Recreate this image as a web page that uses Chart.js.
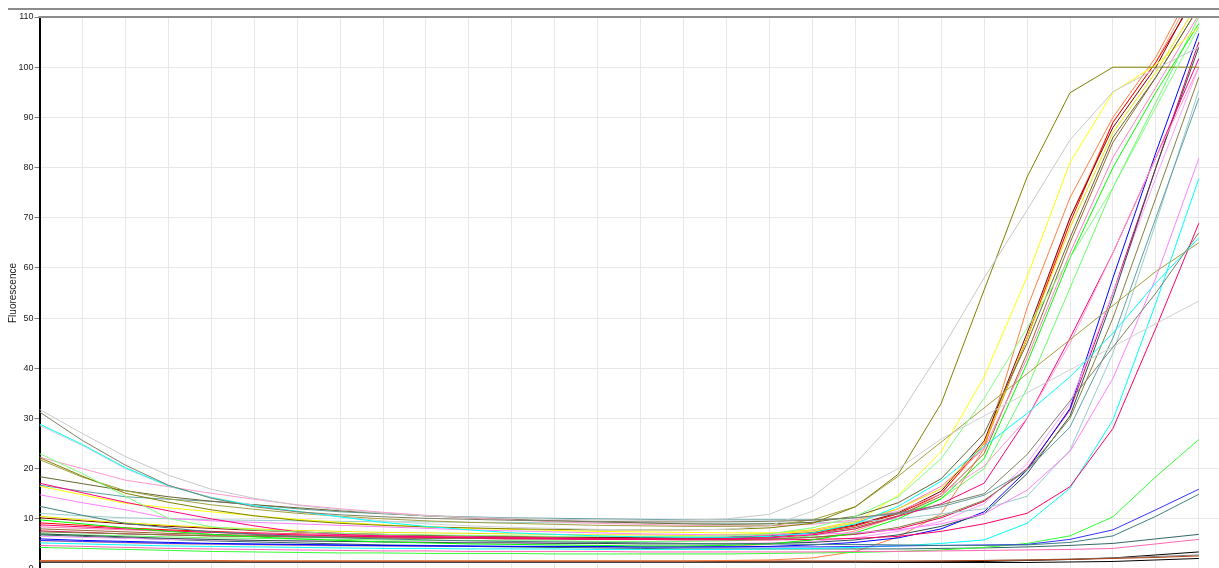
<!DOCTYPE html>
<html>
<head>
<meta charset="utf-8">
<script src="https://cdn.jsdelivr.net/npm/chart.js@4.4.1/dist/chart.umd.min.js"></script>
<style>
  html, body { margin: 0; padding: 0; background: #fff; overflow: hidden; }
  #wrap { width: 1219px; height: 568px; overflow: hidden; position: relative; }
  canvas { display: block; }
</style>
</head>
<body>
<div id="wrap"><canvas id="c" width="1219" height="600"></canvas></div>
<script>
// ---- data ----
const cycles = [1,2,3,4,5,6,7,8,9,10,11,12,13,14,15,16,17,18,19,20,21,22,23,24,25,26,27,28];
const yTickValues = [0,10,20,30,40,50,60,70,80,90,100,110];
const yAxisTitle = "Fluorescence";

const lightGrayA  = [31.8,27.0,22.4,18.7,15.9,14.1,12.7,11.8,11.1,10.6,10.3,10.1,9.9,9.8,9.7,9.7,10.0,10.9,14.4,21.0,30.3,43.6,58.0,71.5,85.5,95.1,99.7,104.0];
const grayOlive   = [31.3,25.6,20.7,16.7,14.1,12.4,11.4,10.8,10.4,10.1,9.9,9.7,9.6,9.5,9.4,9.4,9.4,9.5,9.7,10.2,11.2,12.8,15.0,22.8,33.5,44.2,55.0,67.0];
const cyanA       = [28.9,24.8,20.2,16.6,14.2,12.6,11.5,10.4,9.3,8.5,7.8,7.2,6.9,6.6,6.4,6.3,6.3,6.5,7.2,9.0,12.5,17.5,24.4,31.0,38.3,47.0,57.0,66.0];
const lightGrayB  = [28.6,24.6,20.0,16.5,14.3,12.7,11.4,10.4,9.6,9.0,8.6,8.3,8.1,7.9,7.8,7.8,7.9,8.6,11.5,15.5,20.0,25.9,30.5,35.1,39.7,44.3,48.9,53.4];
const lightGreenA = [23.0,19.0,14.5,10.1,8.4,7.8,7.4,7.1,6.9,6.8,6.7,6.6,6.5,6.5,6.5,6.5,6.6,7.0,8.2,10.5,14.4,22.0,34.0,48.0,62.0,76.0,92.0,108.0];
const olive       = [22.2,18.5,15.1,13.3,11.8,10.6,9.7,9.1,8.7,8.4,8.2,8.0,7.9,7.8,7.8,7.8,7.9,8.2,9.1,12.4,18.9,33.0,55.6,78.1,94.9,100,100,100];
const khaki       = [21.8,18.3,15.6,14.0,12.8,11.9,11.1,10.5,10.0,9.6,9.3,9.1,8.9,8.7,8.6,8.5,8.5,8.6,9.8,12.4,18.5,25.3,32.1,38.9,45.7,52.5,59.3,65.0];
const pinkA       = [22.3,20.0,17.7,16.4,15.1,13.9,12.8,12.0,11.3,10.7,10.2,9.8,9.4,9.1,8.9,8.7,8.6,8.6,8.9,9.8,11.5,15.0,20.5,30.0,45.0,63.0,82.0,100.0];
const darkOliveA  = [18.4,17.0,15.6,14.4,13.5,12.8,12.2,11.6,11.1,10.6,10.2,9.9,9.6,9.4,9.2,9.0,8.9,9.0,9.3,10.5,13.2,18.0,27.0,45.0,66.0,86.0,98.0,112.0];
const crimsonA    = [17.1,15.2,13.3,11.6,10.0,8.6,7.4,6.9,6.6,6.4,6.3,6.2,6.1,6.0,6.0,6.0,6.0,6.2,6.8,8.0,10.5,13.0,17.1,30.0,46.0,63.0,82.0,101.7];
const tealGray    = [16.7,15.5,14.4,13.9,13.5,12.8,12.0,11.4,11.0,10.6,10.4,10.2,10.1,10.0,9.9,9.8,9.8,9.8,9.8,10.2,11.0,12.4,14.7,19.7,28.3,46.0,70.0,93.8];
const yellowA     = [16.5,14.8,13.1,12.2,11.4,10.6,9.9,9.3,8.8,8.4,8.1,7.9,7.7,7.5,7.4,7.3,7.2,7.2,7.4,9.2,14.7,23.4,38.3,58.2,81.0,95.0,100.5,108.0];
const violetA     = [14.8,13.2,11.8,10.1,9.6,9.3,9.0,8.7,8.4,8.1,7.8,7.6,7.4,7.2,7.0,6.9,6.8,6.8,6.9,7.2,7.8,9.0,11.0,15.7,23.4,38.0,58.0,81.8];
const tealDark    = [12.5,10.7,9.1,8.2,7.4,6.9,6.5,6.2,6.0,5.8,5.6,5.5,5.4,5.3,5.2,5.1,5.0,5.0,4.9,4.9,4.8,4.7,4.7,4.8,5.3,6.6,10.5,14.9];
const lightTeal   = [11.1,10.6,10.2,10.0,9.8,9.7,9.6,9.5,9.4,9.4,9.3,9.3,9.2,9.2,9.2,9.1,9.1,9.1,9.2,9.4,10.0,11.0,12.0,14.5,23.7,43.0,69.0,95.4];
const yellowB     = [10.5,9.8,9.2,8.7,8.3,8.0,7.7,7.5,7.3,7.2,7.1,7.0,6.9,6.8,6.8,6.7,6.8,7.1,7.8,9.5,12.0,16.0,25.0,46.0,68.0,87.0,99.0,113.0];
const darkRed     = [10.2,9.6,9.0,8.5,8.1,7.7,7.4,7.1,6.9,6.7,6.6,6.5,6.4,6.3,6.3,6.2,6.3,6.6,7.3,8.8,11.2,15.5,25.5,47.0,70.0,88.0,100.0,116.0];
const greenA      = [9.8,9.0,8.2,7.5,6.9,6.4,6.0,5.7,5.4,5.2,5.0,4.9,4.8,4.7,4.6,4.6,4.7,5.0,5.8,7.2,10.0,14.0,22.0,41.0,62.0,80.0,95.0,108.7];
const crimsonLate = [8.8,8.4,8.0,7.6,7.3,7.0,6.8,6.6,6.4,6.3,6.2,6.1,6.0,5.9,5.9,5.8,5.8,5.8,5.9,6.1,6.5,7.5,9.0,11.1,16.4,28.0,48.0,68.9];
const pinkB       = [8.4,8.1,7.8,7.5,7.3,7.1,6.9,6.8,6.7,6.6,6.5,6.4,6.4,6.3,6.3,6.3,6.4,6.8,7.6,9.2,12.0,16.5,24.0,42.0,63.0,82.0,96.0,110.5];
const darkOliveB  = [7.4,7.2,7.0,6.8,6.6,6.5,6.4,6.3,6.2,6.1,6.1,6.0,6.0,5.9,5.9,5.9,5.9,6.0,6.3,7.0,8.3,10.5,13.7,19.7,30.0,50.0,74.0,98.0];
const darkSlate   = [7.0,6.7,6.4,6.1,5.9,5.7,5.6,5.5,5.4,5.3,5.2,5.2,5.1,5.1,5.0,5.0,5.0,5.1,5.3,5.8,6.8,8.5,11.0,19.0,30.5,54.0,80.0,104.0];
const violetB     = [6.5,6.3,6.1,5.9,5.8,5.7,5.6,5.5,5.4,5.4,5.3,5.3,5.2,5.2,5.2,5.1,5.1,5.2,5.5,6.2,7.5,9.5,13.0,21.0,33.0,55.0,78.0,100.0];
const blueA       = [6.0,5.7,5.5,5.3,5.1,5.0,4.9,4.8,4.7,4.6,4.6,4.5,4.5,4.5,4.4,4.4,4.4,4.5,4.8,5.3,6.2,8.0,11.4,19.7,32.0,58.0,83.0,106.7];
const blueLate    = [5.7,5.5,5.3,5.1,5.0,4.9,4.8,4.7,4.6,4.6,4.5,4.5,4.5,4.4,4.4,4.4,4.4,4.4,4.4,4.5,4.6,4.7,4.8,4.9,5.9,7.8,11.8,15.9];
const cyanLate    = [5.2,5.0,4.8,4.6,4.5,4.4,4.3,4.2,4.1,4.1,4.0,4.0,4.0,3.9,3.9,3.9,3.9,4.0,4.1,4.3,4.6,5.1,5.8,9.1,16.1,29.7,53.0,77.8];
const pinkLate    = [4.7,4.5,4.3,4.1,4.0,3.9,3.8,3.7,3.6,3.6,3.5,3.5,3.5,3.5,3.4,3.4,3.4,3.4,3.4,3.5,3.5,3.6,3.7,3.8,3.9,4.1,5.0,5.9];
const greenLate   = [4.3,4.1,3.9,3.7,3.5,3.4,3.3,3.2,3.2,3.1,3.1,3.1,3.0,3.0,3.0,3.0,3.0,3.1,3.2,3.3,3.5,3.8,4.3,5.1,6.6,10.4,18.4,25.8];
const slateLate   = [6.8,6.5,6.2,5.9,5.6,5.4,5.2,5.0,4.8,4.7,4.5,4.4,4.3,4.2,4.1,4.0,4.0,4.0,4.0,4.0,4.0,4.1,4.2,4.4,4.7,5.1,6.0,6.9];
const redA        = [9.2,8.7,8.2,7.8,7.5,7.2,7.0,6.8,6.6,6.5,6.4,6.3,6.2,6.1,6.1,6.0,6.1,6.4,7.1,8.6,11.0,15.0,25.0,46.0,69.0,89.0,101.0,115.0];
const brownA      = [8.0,7.7,7.4,7.1,6.9,6.7,6.6,6.5,6.4,6.3,6.2,6.2,6.1,6.1,6.0,6.0,6.1,6.4,7.0,8.3,10.6,14.5,23.0,43.0,65.0,85.0,98.0,112.0];
const lightGreenB = [7.0,6.8,6.6,6.4,6.2,6.1,6.0,5.9,5.8,5.7,5.7,5.6,5.6,5.5,5.5,5.5,5.6,5.9,6.6,8.0,10.5,14.0,20.0,36.0,56.0,76.0,93.0,110.0];
const crimsonB    = [7.6,7.3,7.0,6.8,6.6,6.5,6.4,6.3,6.2,6.1,6.1,6.0,6.0,5.9,5.9,5.9,5.9,6.0,6.3,6.9,8.0,10.2,13.5,20.0,31.7,55.0,80.0,105.0];
const coral       = [1.6,1.6,1.6,1.6,1.6,1.6,1.6,1.6,1.6,1.6,1.6,1.6,1.6,1.6,1.6,1.6,1.7,1.8,2.2,3.5,6.4,11.0,24.0,52.0,74.0,90.0,102.0,118.0];
const salmon      = [5.6,5.4,5.2,5.0,4.9,4.8,4.7,4.6,4.6,4.5,4.5,4.5,4.4,4.4,4.4,4.4,4.5,4.9,5.8,7.6,10.5,15.0,24.5,46.0,70.0,89.0,101.0,117.0];
const sienna      = [1.7,1.7,1.7,1.7,1.7,1.6,1.6,1.6,1.6,1.6,1.6,1.6,1.6,1.6,1.6,1.6,1.6,1.6,1.6,1.6,1.6,1.6,1.7,1.8,1.9,2.1,2.3,2.6];
const grayLow     = [1.4,1.4,1.4,1.4,1.4,1.4,1.4,1.4,1.4,1.4,1.4,1.4,1.4,1.4,1.4,1.4,1.4,1.4,1.4,1.4,1.5,1.6,1.7,1.8,2.0,2.2,2.5,2.8];
const blackA      = [1.5,1.5,1.5,1.5,1.5,1.5,1.5,1.5,1.5,1.5,1.5,1.5,1.5,1.5,1.5,1.5,1.5,1.5,1.5,1.5,1.5,1.5,1.5,1.7,1.9,2.2,2.8,3.4];
const blackB      = [1.3,1.3,1.3,1.3,1.3,1.3,1.3,1.3,1.3,1.3,1.3,1.3,1.3,1.3,1.3,1.3,1.3,1.3,1.3,1.3,1.3,1.3,1.3,1.3,1.4,1.5,1.8,2.1];

// ---- styles (kept apart from data) ----
const seriesList = [
  ['lightGrayA', lightGrayA, '#C8C8C8'], ['grayOlive', grayOlive, '#808066'],
  ['cyanA', cyanA, '#00FFFF'], ['lightGrayB', lightGrayB, '#D0D0D0'],
  ['lightGreenA', lightGreenA, '#80FF80'], ['olive', olive, '#808000'],
  ['khaki', khaki, '#A0A040'], ['pinkA', pinkA, '#FF99CC'],
  ['darkOliveA', darkOliveA, '#666633'], ['crimsonA', crimsonA, '#FF0080'],
  ['tealGray', tealGray, '#5F9EA0'], ['yellowA', yellowA, '#FFFF00'],
  ['violetA', violetA, '#FF80FF'], ['tealDark', tealDark, '#408080'],
  ['lightTeal', lightTeal, '#99CCCC'], ['yellowB', yellowB, '#E6E600'],
  ['darkRed', darkRed, '#800000'], ['greenA', greenA, '#00FF00'],
  ['crimsonLate', crimsonLate, '#FF0066'], ['pinkB', pinkB, '#FF80C0'],
  ['darkOliveB', darkOliveB, '#808040'], ['darkSlate', darkSlate, '#2F4F4F'],
  ['violetB', violetB, '#FFA0FF'], ['blueA', blueA, '#0000FF'],
  ['blueLate', blueLate, '#3333FF'], ['cyanLate', cyanLate, '#00FFFF'],
  ['pinkLate', pinkLate, '#FF66B3'], ['greenLate', greenLate, '#33FF33'],
  ['slateLate', slateLate, '#336666'], ['redA', redA, '#FF0000'],
  ['brownA', brownA, '#996633'], ['lightGreenB', lightGreenB, '#66FF66'],
  ['crimsonB', crimsonB, '#E6005C'], ['coral', coral, '#FF8040'],
  ['salmon', salmon, '#FFA07A'], ['sienna', sienna, '#B04010'],
  ['grayLow', grayLow, '#808080'], ['blackA', blackA, '#000000'],
  ['blackB', blackB, '#000000']
];

const datasets = seriesList.map(([name, vals, color]) => ({
  label: name,
  data: vals.map((v, i) => ({ x: cycles[i], y: v })),
  borderColor: color,
  backgroundColor: color,
  borderWidth: 1,
  pointRadius: 0,
  tension: 0,
  fill: false
}));

const frameLines = {
  id: 'frameLines',
  afterDraw(chart) {
    const { ctx, chartArea } = chart;
    ctx.save();
    ctx.strokeStyle = '#8C8C8C';
    ctx.lineWidth = 2;
    ctx.beginPath();
    ctx.moveTo(chartArea.left - 1, chartArea.top);
    ctx.lineTo(chart.width, chartArea.top);
    ctx.moveTo(8, chartArea.top - 8);
    ctx.lineTo(chart.width, chartArea.top - 8);
    ctx.stroke();
    ctx.restore();
  }
};

new Chart(document.getElementById('c'), {
  type: 'line',
  data: { datasets },
  plugins: [frameLines],
  options: {
    responsive: false,
    animation: false,
    devicePixelRatio: 1,
    layout: { padding: { top: 17, bottom: 31, left: 0, right: 0 } },
    plugins: { legend: { display: false }, tooltip: { enabled: false } },
    scales: {
      x: {
        type: 'linear',
        min: cycles[0],
        max: 28.47,
        ticks: { display: false, stepSize: 1, includeBounds: false },
        grid: { color: '#E8E8E8', lineWidth: 1, drawTicks: false },
        border: { display: false }
      },
      y: {
        min: yTickValues[0],
        max: yTickValues[yTickValues.length - 1],
        afterFit(s) { s.width = 39.5; },
        afterBuildTicks(s) { s.ticks = yTickValues.map(v => ({ value: v })); },
        ticks: {
          stepSize: 10,
          padding: 1,
          color: '#222222',
          font: { family: "'Liberation Sans', Arial, sans-serif", size: 9 }
        },
        grid: { color: '#E8E8E8', lineWidth: 1, tickLength: 5, tickColor: '#808080' },
        border: { display: true, color: '#000000', width: 2 },
        title: {
          display: true,
          text: yAxisTitle,
          color: '#222222',
          padding: { top: 7, bottom: 0 },
          font: { family: "'Liberation Sans', Arial, sans-serif", size: 10 }
        }
      }
    }
  }
});
</script>
</body>
</html>
